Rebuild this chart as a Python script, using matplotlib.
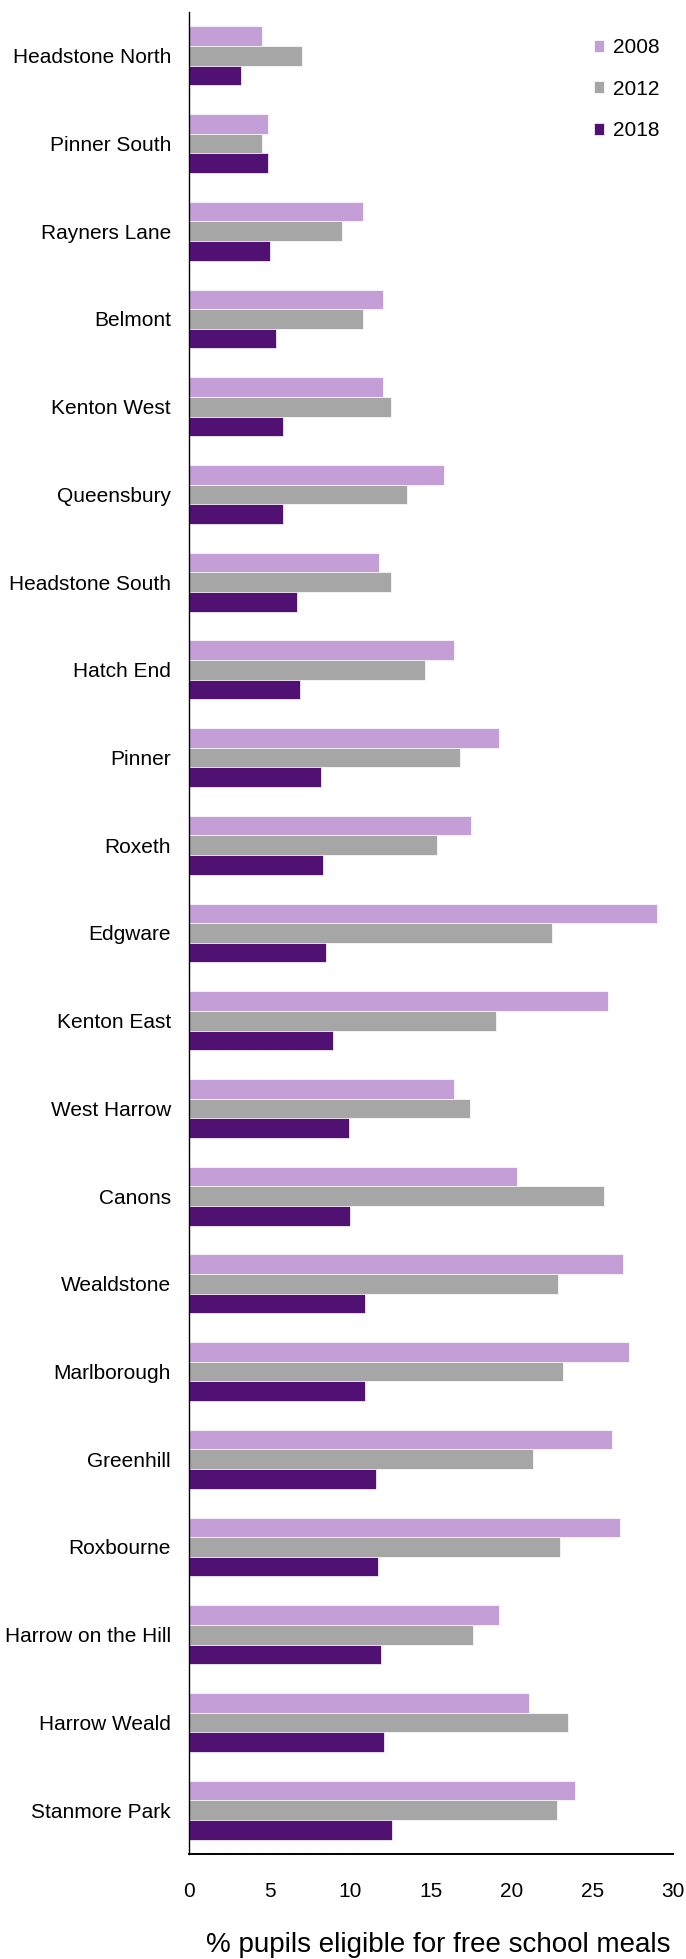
import matplotlib
matplotlib.use('Agg')
import matplotlib.pyplot as plt
import numpy as np

wards = ['Headstone North', 'Pinner South', 'Rayners Lane', 'Belmont', 'Kenton West',
         'Queensbury', 'Headstone South', 'Hatch End', 'Pinner', 'Roxeth', 'Edgware',
         'Kenton East', 'West Harrow', 'Canons', 'Wealdstone', 'Marlborough', 'Greenhill',
         'Roxbourne', 'Harrow on the Hill', 'Harrow Weald', 'Stanmore Park']
fsm_2008 = [4.5, 4.9, 10.8, 12.0, 12.0, 15.8, 11.8, 16.4, 19.2, 17.5, 29.0,
            26.0, 16.4, 20.3, 26.9, 27.3, 26.2, 26.7, 19.2, 21.1, 23.9]
fsm_2012 = [7.0, 4.5, 9.5, 10.8, 12.5, 13.5, 12.5, 14.6, 16.8, 15.4, 22.5,
            19.0, 17.4, 25.7, 22.9, 23.2, 21.3, 23.0, 17.6, 23.5, 22.8]
fsm_2018 = [3.2, 4.9, 5.0, 5.4, 5.8, 5.8, 6.7, 6.9, 8.2, 8.3, 8.5,
            8.9, 9.9, 10.0, 10.9, 10.9, 11.6, 11.7, 11.9, 12.1, 12.6]
years = ['2008', '2012', '2018']
colours = ['#C49ED6', '#A6A6A6', '#511173']

plt.rcParams['font.family'] = ['Liberation Sans', 'DejaVu Sans']

fig = plt.figure(figsize=(6.86, 19.59), dpi=100)
ax = fig.add_axes([189/686, 1 - 1854/1959, (673 - 189)/686, (1854 - 12)/1959])

y = np.arange(len(wards))
h = 0.224
for k, (vals, lab, c) in enumerate(zip([fsm_2008, fsm_2012, fsm_2018], years, colours)):
    ax.barh(y + (k - 1)*h, vals, height=h, color=c, edgecolor='white', linewidth=0.5, label=lab)

ax.set_ylim(len(wards) - 0.5, -0.5)
ax.set_xlim(0, 30)
ax.set_xticks([0, 5, 10, 15, 20, 25, 30])
ax.set_yticks(y)
ax.set_yticklabels(wards)
ax.tick_params(axis='both', length=0, labelsize=15)
ax.tick_params(axis='x', pad=20)
ax.tick_params(axis='y', pad=13)
for s in ['top', 'right']:
    ax.spines[s].set_visible(False)
ax.spines['left'].set_linewidth(1.0)
ax.spines['bottom'].set_linewidth(1.4)

ax.set_xlabel('% pupils eligible for free school meals', fontsize=20)
ax.xaxis.label.set_va('baseline')
ax.xaxis.set_label_coords((438 - 189)/484, (1854 - 1952)/1842)

leg = ax.legend(loc='upper left', bbox_to_anchor=(594/686, 1 - 38/1959), bbox_transform=fig.transFigure,
                frameon=False, fontsize=15, handlelength=0.5, handleheight=0.5,
                handletextpad=0.4, labelspacing=1.09, borderaxespad=0, borderpad=0)

fig.savefig('out.png', dpi=100)
